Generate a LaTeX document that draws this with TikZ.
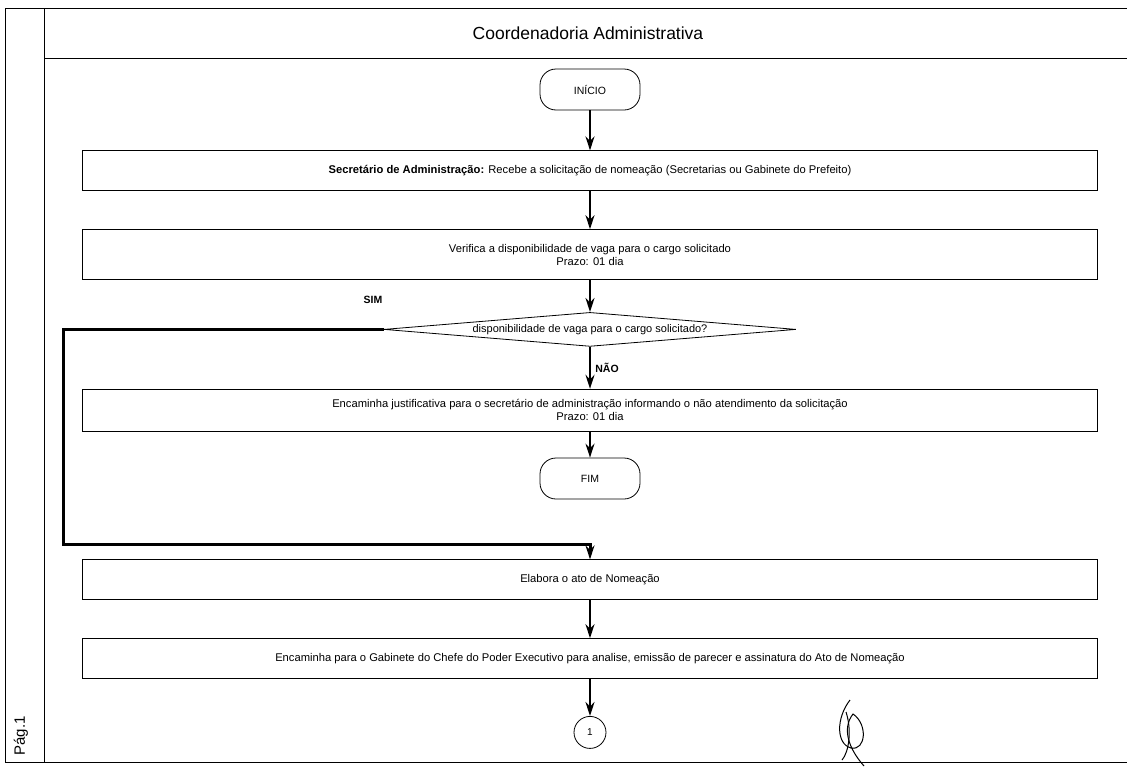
\documentclass[tikz,border=0pt]{standalone}
\usepackage{fontspec}
\setmainfont{Liberation Sans}
\usetikzlibrary{positioning, shapes.geometric, arrows.meta}
\tikzset{
    flow/.style={-{Stealth[length=14pt,width=9pt]}, line width=2pt}, % the thick arrows between the steps
    sim line/.style={-{Stealth[length=14pt,width=9pt]}, line width=3pt}, % the long way round for SIM
    stepbox/.style={draw, line width=0.8pt, minimum width=1015pt, minimum height=40pt, align=center, font=\fontsize{11.2}{13}\selectfont}, % one step of the process
    terminal/.style={draw, line width=0.8pt, rounded corners=16pt, minimum width=100pt, minimum height=41pt, font=\fontsize{10.5}{12}\selectfont}, % start and end
    decision/.style={draw, diamond, aspect=12, line width=0.8pt, inner sep=0pt, minimum width=412pt, minimum height=34pt, font=\fontsize{11}{13}\selectfont},
    pageref/.style={draw, circle, line width=0.8pt, minimum size=32pt, inner sep=0pt, font=\fontsize{10}{12}\selectfont}, % off-page connector
    lbl/.style={font=\bfseries\fontsize{10.5}{12}\selectfont},
    frame/.style={line width=1pt},
}

\begin{document}
\begin{tikzpicture}[x=1pt, y=-1pt]
    \useasboundingbox (0,0) rectangle (1127,766);
    % frame of the page
    \draw[frame] (5,8) -- (1127,8);
    \draw[frame] (5,8) -- (5,762);
    \draw[frame] (44,8) -- (44,762);
    \draw[frame] (44,58) -- (1127,58);
    \draw[frame] (5,762) -- (1127,762);
    \node[font=\fontsize{17.5}{20}\selectfont] (title) at (588,33) {Coordenadoria Administrativa};
    \node[rotate=90, font=\fontsize{15}{17}\selectfont] (page) at (21,736) {Pág.1};

    \node[terminal] (start) at (590,89.5) {INÍCIO};
    \node[stepbox, below=40pt of start] (recebe) {\textbf{Secretário de Administração:} Recebe a solicitação de nomeação (Secretarias ou Gabinete do Prefeito)};
    \node[stepbox, below=38pt of recebe, minimum height=50pt] (verifica) {Verifica a disponibilidade de vaga para o cargo solicitado\\Prazo: 01 dia};
    \node[decision, below=32pt of verifica] (vaga) {disponibilidade de vaga para o cargo solicitado?};
    \node[stepbox, below=42pt of vaga, minimum height=42pt] (justifica) {Encaminha justificativa para o secretário de administração informando o não atendimento da solicitação\\Prazo: 01 dia};
    \node[terminal, below=26pt of justifica] (fim) {FIM};
    \node[stepbox, below=60pt of fim] (elabora) {Elabora o ato de Nomeação};
    \node[stepbox, below=38pt of elabora] (gabinete) {Encaminha para o Gabinete do Chefe do Poder Executivo para analise, emissão de parecer e assinatura do Ato de Nomeação};
    \node[pageref, below=37pt of gabinete] (next) {1};
    \node[lbl] (sim) at (373,300) {SIM};
    \coordinate (turn) at (63,544);

    \draw[flow] (start) -- (recebe);
    \draw[flow] (recebe) -- (verifica);
    \draw[flow] (verifica) -- (vaga);
    \draw[flow] (vaga) -- node[lbl, right=1pt] (nao) {NÃO} (justifica);
    \draw[flow] (justifica) -- (fim);
    \draw[sim line] (vaga.west) -| (turn) -| (elabora.north);
    \draw[flow] (elabora) -- (gabinete);
    \draw[flow] (gabinete) -- (next);

    % rubrica
    \draw[line width=1pt] (850,700) .. controls (836,718) and (836,744) .. (851,748) .. controls (866,751) and (868,724) .. (853,714) .. controls (842,728) and (848,748) .. (864,766);
    \draw[line width=1pt] (846,712) .. controls (852,730) and (849,752) .. (842,760);
\end{tikzpicture}
\end{document}
